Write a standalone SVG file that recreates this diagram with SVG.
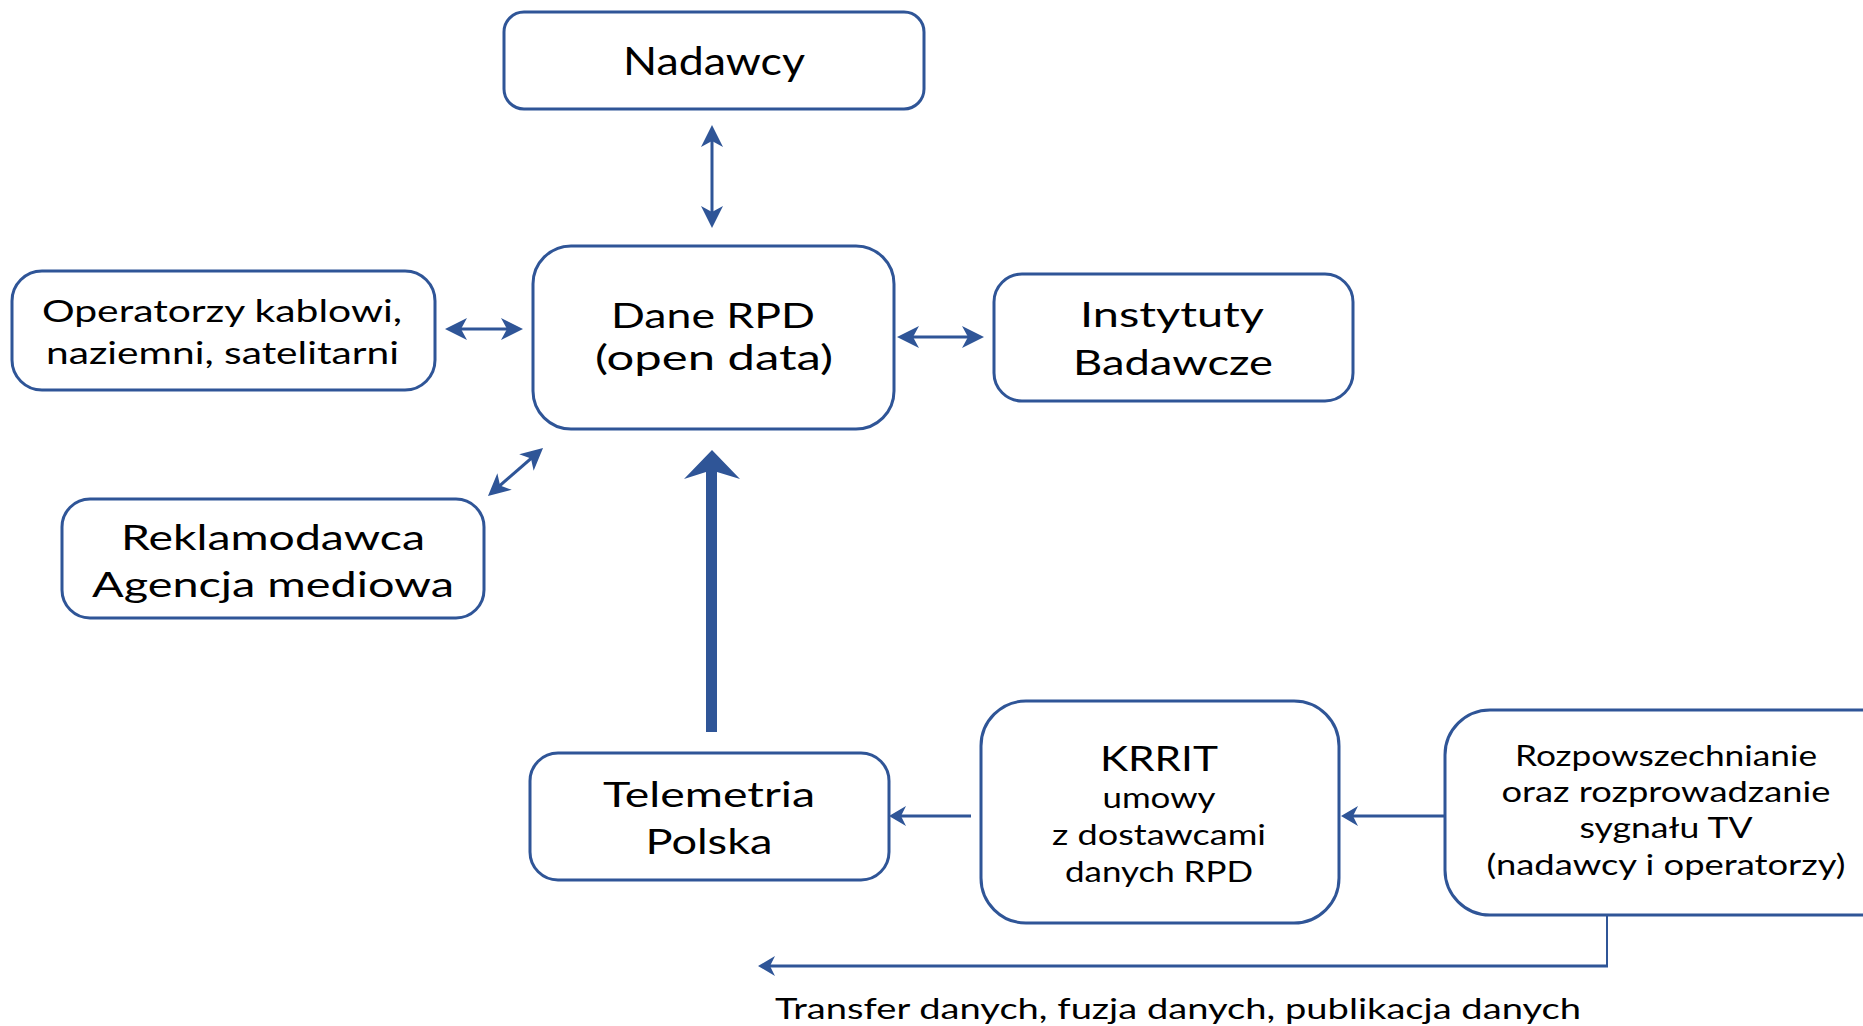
<svg xmlns="http://www.w3.org/2000/svg" width="1863" height="1026" viewBox="0 0 1863 1026">
<style>
.box{fill:#fff;stroke:#2f5597;stroke-width:3}
.t{font-family:Lato,"Open Sans","Noto Sans",sans-serif;fill:#000;text-anchor:middle}
.big{font-size:35px}
.mid{font-size:31px}
.sm{font-size:29px}
.ln{stroke:#2f5597;stroke-width:3;fill:none}
</style>
<defs>
<marker id="dh" viewBox="0 0 22 22" markerUnits="userSpaceOnUse" markerWidth="22" markerHeight="22" refX="16" refY="11" orient="auto-start-reverse">
<path d="M0,0 L22,11 L0,22 L6,11 z" fill="#2f5597"/>
</marker>
<marker id="sh" viewBox="0 0 17 20" markerUnits="userSpaceOnUse" markerWidth="17" markerHeight="20" refX="12" refY="10" orient="auto">
<path d="M0,0 L17,10 L0,20 L5,10 z" fill="#2f5597"/>
</marker>
</defs>
<rect width="1863" height="1026" fill="#fff"/>
<g id="connectors">
<line class="ln" x1="712" y1="131" x2="712" y2="222" marker-start="url(#dh)" marker-end="url(#dh)"/>
<line class="ln" x1="451" y1="329" x2="517" y2="329" marker-start="url(#dh)" marker-end="url(#dh)"/>
<line class="ln" x1="492.5" y1="492" x2="538.5" y2="452" marker-start="url(#dh)" marker-end="url(#dh)"/>
<line class="ln" x1="903" y1="337" x2="978" y2="337" marker-start="url(#dh)" marker-end="url(#dh)"/>
<line class="ln" x1="971" y1="816" x2="894" y2="816" marker-end="url(#sh)"/>
<line class="ln" x1="1445" y1="816" x2="1346" y2="816" marker-end="url(#sh)"/>
<line x1="1607" y1="910" x2="1607" y2="966" stroke="#2f5597" stroke-width="2"/>
<line class="ln" x1="1608" y1="966" x2="763" y2="966" marker-end="url(#sh)"/>
<path id="big-arrow" d="M706,732 L706,472 L684,479 L712,450 L740,479 L717,472 L717,732 z" fill="#2f5597"/>
</g>
<g id="nadawcy">
<rect class="box" x="504" y="12" width="420" height="97" rx="20"/>
<text class="t" x="714" y="75" font-size="38" textLength="182" lengthAdjust="spacingAndGlyphs">Nadawcy</text>
</g>
<g id="operatorzy">
<rect class="box" x="12" y="271" width="423" height="119" rx="30"/>
<text class="t mid" x="222" y="322" textLength="360" lengthAdjust="spacingAndGlyphs">Operatorzy kablowi,</text>
<text class="t mid" x="222.5" y="364" textLength="353" lengthAdjust="spacingAndGlyphs">naziemni, satelitarni</text>
</g>
<g id="reklamodawca">
<rect class="box" x="62" y="499" width="422" height="119" rx="28"/>
<text class="t big" x="273" y="550" textLength="304" lengthAdjust="spacingAndGlyphs">Reklamodawca</text>
<text class="t big" x="273" y="597" textLength="362" lengthAdjust="spacingAndGlyphs">Agencja mediowa</text>
</g>
<g id="dane-rpd">
<rect class="box" x="533" y="246" width="361" height="183" rx="38"/>
<text class="t" x="713" y="328" font-size="34.5" textLength="204" lengthAdjust="spacingAndGlyphs">Dane RPD</text>
<text class="t" x="714" y="370" font-size="34.5" textLength="238" lengthAdjust="spacingAndGlyphs">(open data)</text>
</g>
<g id="instytuty">
<rect class="box" x="994" y="274" width="359" height="127" rx="28"/>
<text class="t big" x="1172" y="327" textLength="184" lengthAdjust="spacingAndGlyphs">Instytuty</text>
<text class="t big" x="1173" y="375" textLength="200" lengthAdjust="spacingAndGlyphs">Badawcze</text>
</g>
<g id="telemetria">
<rect class="box" x="530" y="753" width="359" height="127" rx="28"/>
<text class="t big" x="709" y="807" textLength="212" lengthAdjust="spacingAndGlyphs">Telemetria</text>
<text class="t big" x="709" y="854" textLength="127" lengthAdjust="spacingAndGlyphs">Polska</text>
</g>
<g id="krrit">
<rect class="box" x="981" y="701" width="358" height="222" rx="45"/>
<text class="t" x="1159" y="771" font-size="34.5" textLength="118" lengthAdjust="spacingAndGlyphs">KRRIT</text>
<text class="t" x="1159" y="808" font-size="28.5" textLength="113" lengthAdjust="spacingAndGlyphs">umowy</text>
<text class="t" x="1159" y="845" font-size="28.5" textLength="214" lengthAdjust="spacingAndGlyphs">z dostawcami</text>
<text class="t" x="1159" y="882" font-size="28.5" textLength="188" lengthAdjust="spacingAndGlyphs">danych RPD</text>
</g>
<g id="rozpowszechnianie">
<rect class="box" x="1445" y="710" width="470" height="205" rx="45"/>
<text class="t" x="1666" y="766" font-size="28.5" textLength="302" lengthAdjust="spacingAndGlyphs">Rozpowszechnianie</text>
<text class="t" x="1666" y="802" font-size="28.5" textLength="329" lengthAdjust="spacingAndGlyphs">oraz rozprowadzanie</text>
<text class="t" x="1666" y="838" font-size="28.5" textLength="173" lengthAdjust="spacingAndGlyphs">sygnału TV</text>
<text class="t" x="1666" y="875" font-size="28.5" textLength="359" lengthAdjust="spacingAndGlyphs">(nadawcy i operatorzy)</text>
</g>
<g id="label-transfer">
<text class="t sm" x="1178" y="1019" textLength="806" lengthAdjust="spacingAndGlyphs">Transfer danych, fuzja danych, publikacja danych</text>
</g>
</svg>
